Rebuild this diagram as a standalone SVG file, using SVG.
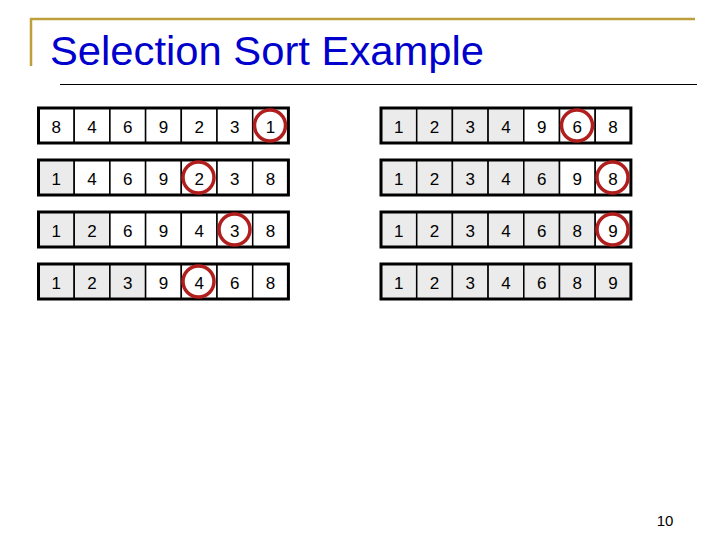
<svg xmlns="http://www.w3.org/2000/svg" width="720" height="540" viewBox="0 0 720 540">
<style>
.c{stroke:#000;stroke-width:1.5}
.w{fill:#fff}
.g{fill:#ebebeb}
.o{fill:none;stroke:#000;stroke-width:3}
.t{font-family:"Liberation Sans",Arial,sans-serif;font-size:17px;fill:#000;text-anchor:middle}
.r{fill:none;stroke:#b01e1e;stroke-width:3.5}
</style>
<rect width="720" height="540" fill="#fff"/>
<g id="frame">
<path d="M31 66 V19 H695" fill="none" stroke="#bf9f3a" stroke-width="2.5"/>
<line x1="60" y1="84.5" x2="697" y2="84.5" stroke="#000" stroke-width="1.2"/>
</g>
<g id="title">
<text x="50" y="65" font-family="'Liberation Sans',Arial,sans-serif" font-size="40" fill="#0000cc" textLength="434" lengthAdjust="spacingAndGlyphs">Selection Sort Example</text>
</g>

<g id="left-row1">
<rect class="c w" x="38.5" y="108" width="35.7" height="35"/><rect class="c w" x="74.2" y="108" width="35.7" height="35"/><rect class="c w" x="109.9" y="108" width="35.7" height="35"/><rect class="c w" x="145.6" y="108" width="35.7" height="35"/><rect class="c w" x="181.3" y="108" width="35.7" height="35"/><rect class="c w" x="217" y="108" width="35.7" height="35"/><rect class="c w" x="252.7" y="108" width="35.7" height="35"/>
<rect class="o" x="38.5" y="108" width="249.9" height="35"/>
<text class="t" y="133"><tspan x="56.35">8</tspan><tspan x="92.05">4</tspan><tspan x="127.75">6</tspan><tspan x="163.45">9</tspan><tspan x="199.15">2</tspan><tspan x="234.85">3</tspan><tspan x="270.55">1</tspan></text>
<circle class="r" cx="270" cy="125.5" r="15.5"/>
</g>

<g id="left-row2">
<rect class="c g" x="38.5" y="160" width="35.7" height="35"/><rect class="c w" x="74.2" y="160" width="35.7" height="35"/><rect class="c w" x="109.9" y="160" width="35.7" height="35"/><rect class="c w" x="145.6" y="160" width="35.7" height="35"/><rect class="c w" x="181.3" y="160" width="35.7" height="35"/><rect class="c w" x="217" y="160" width="35.7" height="35"/><rect class="c w" x="252.7" y="160" width="35.7" height="35"/>
<rect class="o" x="38.5" y="160" width="249.9" height="35"/>
<text class="t" y="185"><tspan x="56.35">1</tspan><tspan x="92.05">4</tspan><tspan x="127.75">6</tspan><tspan x="163.45">9</tspan><tspan x="199.15">2</tspan><tspan x="234.85">3</tspan><tspan x="270.55">8</tspan></text>
<circle class="r" cx="198.5" cy="177.5" r="15.5"/>
</g>

<g id="left-row3">
<rect class="c g" x="38.5" y="212" width="35.7" height="35"/><rect class="c g" x="74.2" y="212" width="35.7" height="35"/><rect class="c w" x="109.9" y="212" width="35.7" height="35"/><rect class="c w" x="145.6" y="212" width="35.7" height="35"/><rect class="c w" x="181.3" y="212" width="35.7" height="35"/><rect class="c w" x="217" y="212" width="35.7" height="35"/><rect class="c w" x="252.7" y="212" width="35.7" height="35"/>
<rect class="o" x="38.5" y="212" width="249.9" height="35"/>
<text class="t" y="237"><tspan x="56.35">1</tspan><tspan x="92.05">2</tspan><tspan x="127.75">6</tspan><tspan x="163.45">9</tspan><tspan x="199.15">4</tspan><tspan x="234.85">3</tspan><tspan x="270.55">8</tspan></text>
<circle class="r" cx="234.5" cy="229.5" r="15.5"/>
</g>

<g id="left-row4">
<rect class="c g" x="38.5" y="264" width="35.7" height="35"/><rect class="c g" x="74.2" y="264" width="35.7" height="35"/><rect class="c g" x="109.9" y="264" width="35.7" height="35"/><rect class="c w" x="145.6" y="264" width="35.7" height="35"/><rect class="c w" x="181.3" y="264" width="35.7" height="35"/><rect class="c w" x="217" y="264" width="35.7" height="35"/><rect class="c w" x="252.7" y="264" width="35.7" height="35"/>
<rect class="o" x="38.5" y="264" width="249.9" height="35"/>
<text class="t" y="289"><tspan x="56.35">1</tspan><tspan x="92.05">2</tspan><tspan x="127.75">3</tspan><tspan x="163.45">9</tspan><tspan x="199.15">4</tspan><tspan x="234.85">6</tspan><tspan x="270.55">8</tspan></text>
<circle class="r" cx="198.5" cy="281.5" r="15.5"/>
</g>

<g id="right-row1">
<rect class="c g" x="381" y="108" width="35.7" height="35"/><rect class="c g" x="416.7" y="108" width="35.7" height="35"/><rect class="c g" x="452.4" y="108" width="35.7" height="35"/><rect class="c g" x="488.1" y="108" width="35.7" height="35"/><rect class="c w" x="523.8" y="108" width="35.7" height="35"/><rect class="c w" x="559.5" y="108" width="35.7" height="35"/><rect class="c w" x="595.2" y="108" width="35.7" height="35"/>
<rect class="o" x="381" y="108" width="249.9" height="35"/>
<text class="t" y="133"><tspan x="398.85">1</tspan><tspan x="434.55">2</tspan><tspan x="470.25">3</tspan><tspan x="505.95">4</tspan><tspan x="541.65">9</tspan><tspan x="577.35">6</tspan><tspan x="613.05">8</tspan></text>
<circle class="r" cx="577" cy="125.5" r="15.5"/>
</g>

<g id="right-row2">
<rect class="c g" x="381" y="160" width="35.7" height="35"/><rect class="c g" x="416.7" y="160" width="35.7" height="35"/><rect class="c g" x="452.4" y="160" width="35.7" height="35"/><rect class="c g" x="488.1" y="160" width="35.7" height="35"/><rect class="c g" x="523.8" y="160" width="35.7" height="35"/><rect class="c w" x="559.5" y="160" width="35.7" height="35"/><rect class="c w" x="595.2" y="160" width="35.7" height="35"/>
<rect class="o" x="381" y="160" width="249.9" height="35"/>
<text class="t" y="185"><tspan x="398.85">1</tspan><tspan x="434.55">2</tspan><tspan x="470.25">3</tspan><tspan x="505.95">4</tspan><tspan x="541.65">6</tspan><tspan x="577.35">9</tspan><tspan x="613.05">8</tspan></text>
<circle class="r" cx="612.5" cy="177.5" r="15.5"/>
</g>

<g id="right-row3">
<rect class="c g" x="381" y="212" width="35.7" height="35"/><rect class="c g" x="416.7" y="212" width="35.7" height="35"/><rect class="c g" x="452.4" y="212" width="35.7" height="35"/><rect class="c g" x="488.1" y="212" width="35.7" height="35"/><rect class="c g" x="523.8" y="212" width="35.7" height="35"/><rect class="c g" x="559.5" y="212" width="35.7" height="35"/><rect class="c w" x="595.2" y="212" width="35.7" height="35"/>
<rect class="o" x="381" y="212" width="249.9" height="35"/>
<text class="t" y="237"><tspan x="398.85">1</tspan><tspan x="434.55">2</tspan><tspan x="470.25">3</tspan><tspan x="505.95">4</tspan><tspan x="541.65">6</tspan><tspan x="577.35">8</tspan><tspan x="613.05">9</tspan></text>
<circle class="r" cx="612.5" cy="229.5" r="15.5"/>
</g>

<g id="right-row4">
<rect class="c g" x="381" y="264" width="35.7" height="35"/><rect class="c g" x="416.7" y="264" width="35.7" height="35"/><rect class="c g" x="452.4" y="264" width="35.7" height="35"/><rect class="c g" x="488.1" y="264" width="35.7" height="35"/><rect class="c g" x="523.8" y="264" width="35.7" height="35"/><rect class="c g" x="559.5" y="264" width="35.7" height="35"/><rect class="c g" x="595.2" y="264" width="35.7" height="35"/>
<rect class="o" x="381" y="264" width="249.9" height="35"/>
<text class="t" y="289"><tspan x="398.85">1</tspan><tspan x="434.55">2</tspan><tspan x="470.25">3</tspan><tspan x="505.95">4</tspan><tspan x="541.65">6</tspan><tspan x="577.35">8</tspan><tspan x="613.05">9</tspan></text>
</g>

<g id="connectors"></g>

<g id="page-number">
<text x="665" y="526" font-family="'Liberation Sans',Arial,sans-serif" font-size="15" fill="#000" text-anchor="middle">10</text>
</g>
</svg>
